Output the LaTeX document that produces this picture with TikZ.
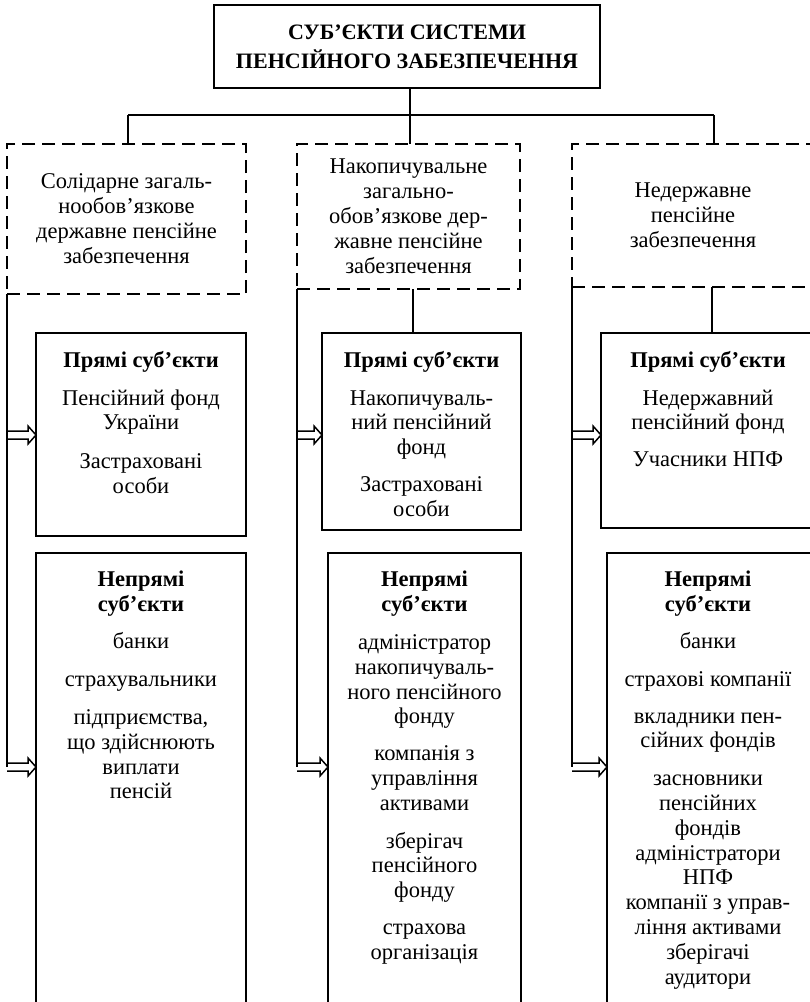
\documentclass[tikz,border=0pt]{standalone}
\usepackage{fontspec}
\setmainfont{Liberation Serif}
\usetikzlibrary{calc}
\tikzset{
  box/.style={draw, line width=1.8pt, inner sep=0pt, outer sep=0pt},
  dbox/.style={draw, line width=1.8pt, dash pattern=on 13pt off 7pt, inner sep=0pt, outer sep=0pt, align=center, font=\fontsize{22.5}{25}\selectfont},
  txt/.style={align=center, inner sep=0pt, anchor=north, font=\fontsize{22.5}{24.8}\selectfont},
  ttl/.style={align=center, font=\fontsize{22}{29}\selectfont\bfseries},
  conn/.style={line width=1.8pt},
  harr/.style={line width=1.5pt, line join=miter},
}
\newcommand\hollowarr[2]{\draw[harr] ($(#1)+(0,-4)$) -- ($(#2)+(-8,-4)$) -- ($(#2)+(-8,-9)$) -- (#2) -- ($(#2)+(-8,9)$) -- ($(#2)+(-8,4)$) -- ($(#1)+(0,4)$);}
\begin{document}
\begin{tikzpicture}[x=1pt,y=-1pt]
\useasboundingbox (0,0) rectangle (810,1002);
\clip (0,0) rectangle (810,1002);
\fill[white] (0,0) rectangle (810,1002);

% title
\node[box, ttl, minimum width=386pt, minimum height=83pt] (title) at (407,46.5) {СУБ’ЄКТИ СИСТЕМИ\\ПЕНСІЙНОГО ЗАБЕЗПЕЧЕННЯ};

% dashed category boxes
\node[dbox, minimum width=239pt, minimum height=150pt] (dash1) at (126.5,219) {Солідарне загаль-\\нообов’язкове\\державне пенсійне\\забезпечення};
\node[dbox, minimum width=223pt, minimum height=145pt] (dash2) at (408.5,216.5) {Накопичувальне\\загально-\\обов’язкове дер-\\жавне пенсійне\\забезпечення};
\node[dbox, minimum width=242pt, minimum height=143pt] (dash3) at (693,215.5) {Недержавне\\пенсійне\\забезпечення};

% direct subjects boxes
\node[box, minimum width=210pt, minimum height=203pt] (dir1) at (141,434.5) {};
\node[box, minimum width=199pt, minimum height=197pt] (dir2) at (421.5,431.5) {};
\node[box, minimum width=214pt, minimum height=195pt] (dir3) at (708,430.5) {};

% indirect subjects boxes
\node[box, minimum width=210pt, minimum height=470pt] (ind1) at (141,788) {};
\node[box, minimum width=193pt, minimum height=470pt] (ind2) at (424.5,788) {};
\node[box, minimum width=204pt, minimum height=470pt] (ind3) at (709,788) {};

% texts
\node[txt] (tdir1) at (141,351) {\textbf{Прямі суб’єкти}\\[13pt]Пенсійний фонд\\України\\[14pt]Застраховані\\особи};
\node[txt] (tdir2) at (421.5,351) {\textbf{Прямі суб’єкти}\\[13pt]Накопичуваль-\\ний пенсійний\\фонд\\[12pt]Застраховані\\особи};
\node[txt] (tdir3) at (708,351) {\textbf{Прямі суб’єкти}\\[13pt]Недержавний\\пенсійний фонд\\[12pt]Учасники НПФ};

\node[txt] (tind1) at (141,571) {\textbf{Непрямі}\\\textbf{суб’єкти}\\[12.5pt]банки\\[13pt]страхувальники\\[13pt]підприємства,\\що здійснюють\\виплати\\пенсій};
\node[txt] (tind2) at (424.5,571) {\textbf{Непрямі}\\\textbf{суб’єкти}\\[13pt]адміністратор\\накопичуваль-\\ного пенсійного\\фонду\\[12pt]компанія з\\управління\\активами\\[13pt]зберігач\\пенсійного\\фонду\\[12pt]страхова\\організація};
\node[txt] (tind3) at (708,571) {\textbf{Непрямі}\\\textbf{суб’єкти}\\[12pt]банки\\[13pt]страхові компанії\\[12pt]вкладники пен-\\сійних фондів\\[13pt]засновники\\пенсійних\\фондів\\адміністратори\\НПФ\\компанії з управ-\\ління активами\\зберігачі\\аудитори};

% tree connectors
\coordinate (hub) at (410,115);
\coordinate (h1) at (128,115);
\coordinate (h3) at (714,115);
\draw[conn] (title.south -| hub) -- (hub);
\draw[conn] (h1) -- (h3);
\draw[conn] (h1) -- (h1 |- dash1.north);
\draw[conn] (hub) -- (hub |- dash2.north);
\draw[conn] (h3) -- (h3 |- dash3.north);

\coordinate (c2) at (413,0);
\coordinate (c3) at (712,0);
\draw[conn] (c2 |- dash2.south) -- (c2 |- dir2.north);
\draw[conn] (c3 |- dash3.south) -- (c3 |- dir3.north);

% spines
\coordinate (s1a) at (7,435);   \coordinate (s1b) at (7,767);
\coordinate (s2a) at (297,435); \coordinate (s2b) at (297,767);
\coordinate (s3a) at (572,435); \coordinate (s3b) at (572,767);
\draw[conn] (dash1.south west) -- (s1b);
\draw[conn] (dash2.south west) -- (s2b);
\draw[conn] (dash3.south west) -- (s3b);

% hollow arrows
\hollowarr{s1a}{dir1.west |- s1a}
\hollowarr{s1b}{ind1.west |- s1b}
\hollowarr{s2a}{dir2.west |- s2a}
\hollowarr{s2b}{ind2.west |- s2b}
\hollowarr{s3a}{dir3.west |- s3a}
\hollowarr{s3b}{ind3.west |- s3b}
\end{tikzpicture}
\end{document}
